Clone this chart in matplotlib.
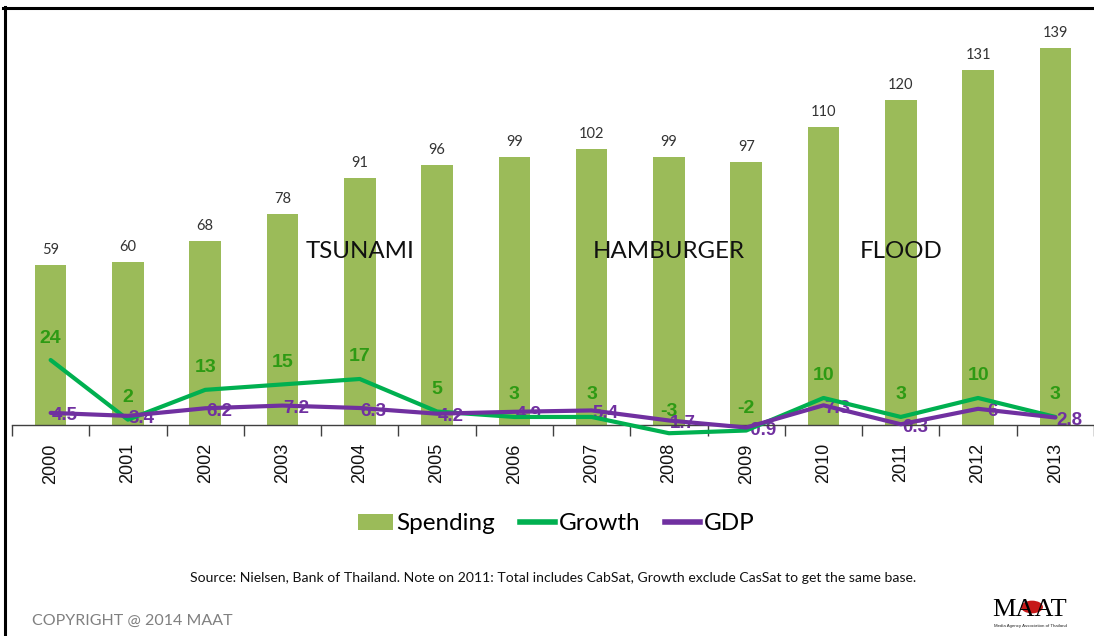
import matplotlib
matplotlib.use("Agg")
import matplotlib.pyplot as plt
from matplotlib.patches import Patch, Circle
from matplotlib.lines import Line2D
import numpy as np

years = ["2000", "2001", "2002", "2003", "2004", "2005", "2006",
         "2007", "2008", "2009", "2010", "2011", "2012", "2013"]
spending = [59, 60, 68, 78, 91, 96, 99, 102, 99, 97, 110, 120, 131, 139]
growth = [24, 2, 13, 15, 17, 5, 3, 3, -3, -2, 10, 3, 10, 3]
gdp = [4.5, 3.4, 6.2, 7.2, 6.3, 4.2, 4.9, 5.4, 1.7, -0.9, 7.3, 0.3, 6, 2.8]
gdp_labels = ["4.5", "3.4", "6.2", "7.2", "6.3", "4.2", "4.9", "5.4", "1.7",
              "-0.9", "7.3", "0.3", "6", "2.8"]
events = [("TSUNAMI", "2004"), ("HAMBURGER", "2008"), ("FLOOD", "2011")]
event_level = 64

BAR_C = "#9BBB59"
GROWTH_C = "#00B050"
GROWTH_TXT = "#2E9A14"
GDP_C = "#7030A0"
CAL = ["Lato", "DejaVu Sans"]
ARIAL = ["Liberation Sans", "DejaVu Sans"]

W, H = 1094, 636
fig = plt.figure(figsize=(W / 100, H / 100), dpi=100)
fig.patch.set_facecolor("white")

# axes: x from px 12 to 1094, y from px 10 (top) to 440 (bottom)
ax = fig.add_axes([12 / W, (H - 440) / H, (W - 12) / W, 430 / H])
x = np.arange(len(years))
ax.set_xlim(-0.5, len(years) - 0.5)
ax.set_ylim(-5.5, 153.1)

ax.bar(x, spending, width=0.41, color=BAR_C, zorder=1)
for xi, v in zip(x, spending):
    ax.annotate(str(v), (xi, v), xytext=(0, 15), textcoords="offset pixels",
                ha="center", va="center", fontsize=10.5, color="#333333", family=CAL)

ax.plot(x, growth, color=GROWTH_C, lw=3, zorder=3, solid_capstyle="round")
ax.plot(x, gdp, color=GDP_C, lw=3, zorder=4, solid_capstyle="round")

for xi, v in zip(x, growth):
    ax.annotate(str(v), (xi, v), xytext=(0, 22), textcoords="offset pixels",
                ha="center", va="center", fontsize=14, fontweight="bold",
                color=GROWTH_TXT, family=ARIAL, zorder=2)
for xi, v, lab in zip(x, gdp, gdp_labels):
    ax.annotate(lab, (xi, v), xytext=(14, -3), textcoords="offset pixels",
                ha="center", va="center", fontsize=13.5, fontweight="bold",
                color=GDP_C, family=ARIAL, zorder=2)

for name, yr in events:
    ax.text(years.index(yr), event_level, name, ha="center", va="center",
            fontsize=17.3, color="#111111", family=CAL, zorder=5)

# axis styling
for s in ["top", "right", "left"]:
    ax.spines[s].set_visible(False)
ax.spines["bottom"].set_position(("data", 0))
ax.spines["bottom"].set_color("#404040")
ax.spines["bottom"].set_linewidth(1)
ax.set_yticks([])
ax.set_xticks(x)
ax.set_xticklabels(years, rotation=90, fontsize=13, family=ARIAL, color="#111111")
ax.tick_params(axis="x", which="major", length=0, pad=13)
ax.set_xticks(np.arange(-0.5, len(years), 1.0), minor=True)
ax.tick_params(axis="x", which="minor", length=8, width=1, color="#404040", direction="out")

# legend
handles = [Patch(facecolor=BAR_C, edgecolor="none"),
           Line2D([], [], color=GROWTH_C, lw=4),
           Line2D([], [], color=GDP_C, lw=4)]
fig.legend(handles, ["Spending", "Growth", "GDP"], loc="center",
           bbox_to_anchor=(556 / W, 1 - 524 / H), ncol=3, frameon=False,
           prop={"family": CAL, "size": 17.5}, handlelength=1.45, handleheight=0.6,
           handletextpad=0.15, columnspacing=1.0)

fig.text(553 / W, 1 - 578 / H,
         "Source: Nielsen, Bank of Thailand. Note on 2011: Total includes CabSat, Growth exclude CasSat to get the same base.",
         ha="center", va="center", fontsize=10.1, family=CAL, color="#111111")
fig.text(32 / W, 1 - 621 / H, "COPYRIGHT @ 2014 MAAT", ha="left", va="center",
         fontsize=11.5, family=CAL, color="#808080")

# logo
fig.patches.append(Circle((1032 / W, 1 - 607 / H), 0.010, transform=fig.transFigure,
                          facecolor="#C00000", edgecolor="none", alpha=0.9))
fig.text(1030 / W, 1 - 610 / H, "MAAT", ha="center", va="center", fontsize=19,
         family=["Liberation Serif", "DejaVu Serif"], color="black")
fig.text(1030 / W, 1 - 626 / H, "Media Agency Association of Thailand", ha="center",
         va="center", fontsize=3.2, family=ARIAL, color="#222222")

# frame lines
fig.add_artist(Line2D([3 / W, 1], [1 - 7.5 / H, 1 - 7.5 / H], transform=fig.transFigure,
                      color="black", lw=2.2))
fig.add_artist(Line2D([4.5 / W, 4.5 / W], [0, 1 - 6.5 / H], transform=fig.transFigure,
                      color="black", lw=2.2))

fig.savefig("out.png", dpi=100, facecolor="white")
